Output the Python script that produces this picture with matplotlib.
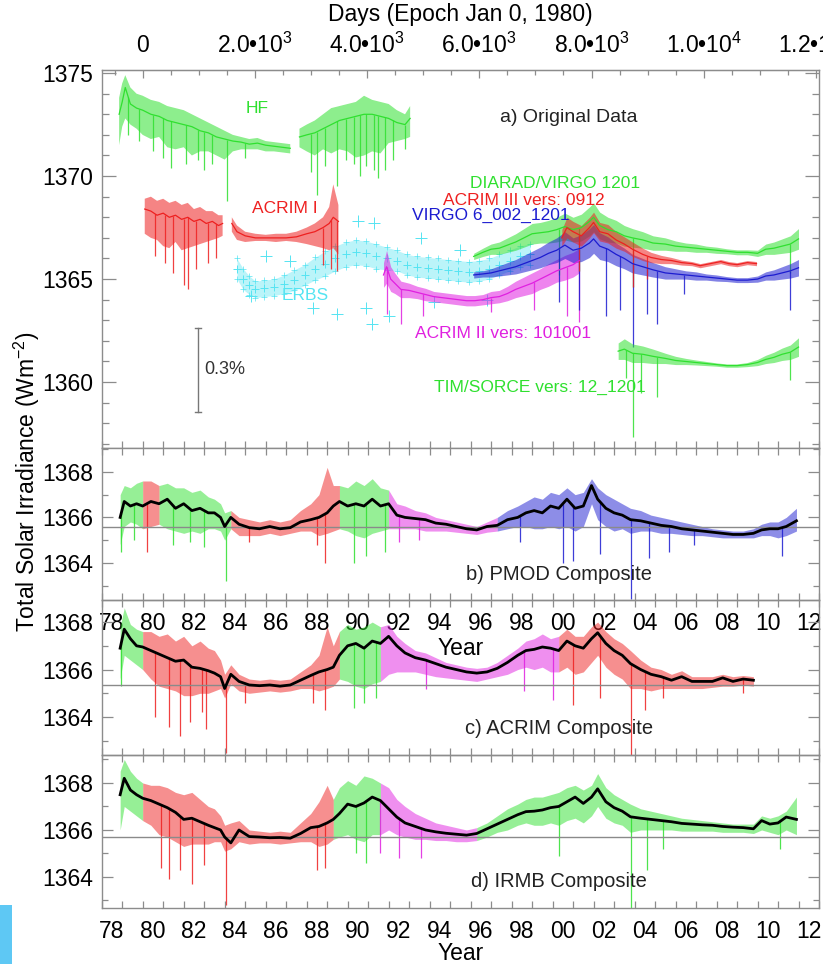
import numpy as np
import matplotlib
matplotlib.use('Agg')
import matplotlib.pyplot as plt
from matplotlib.patches import Rectangle
from matplotlib.ticker import MultipleLocator, FixedLocator, FixedFormatter, NullFormatter, FuncFormatter

plt.rcParams['font.family'] = ['Liberation Sans', 'DejaVu Sans']
plt.rcParams['mathtext.fontset'] = 'custom'
plt.rcParams['mathtext.rm'] = 'Liberation Sans'
plt.rcParams['mathtext.it'] = 'Liberation Sans:italic'

nan = np.nan

# ---------------- panel a: original data ----------------
hf_yr = [1978.85, 1979.0, 1979.15, 1979.4, 1979.7, 1980.0, 1980.4, 1980.8, 1981.2, 1981.6,
         1982.0, 1982.4, 1982.8, 1983.2, 1983.6, 1984.0, 1984.4, 1984.8, 1985.2, 1985.6,
         1986.0, 1986.4, 1986.8, 1987.2, 1987.4, 1987.65, 1988.0, 1988.4, 1988.8, 1989.2,
         1989.6, 1990.0, 1990.4, 1990.8, 1991.2, 1991.6, 1992.0, 1992.4, 1992.8, 1993.05]
hf_mid = [1373.0, 1373.6, 1374.3, 1373.5, 1373.3, 1373.2, 1373.0, 1372.9, 1372.7, 1372.6,
          1372.5, 1372.4, 1372.2, 1372.1, 1371.9, 1371.8, 1371.7, 1371.65, 1371.55, 1371.6,
          1371.5, 1371.45, 1371.4, 1371.35, nan, 1371.9, 1372.0, 1372.1, 1372.3, 1372.5,
          1372.7, 1372.8, 1372.9, 1373.0, 1373.0, 1372.9, 1372.8, 1372.6, 1372.5, 1372.8]
hf_hi = [1373.8, 1374.5, 1374.9, 1374.3, 1374.0, 1373.9, 1373.7, 1373.6, 1373.4, 1373.3,
         1373.2, 1373.0, 1372.8, 1372.6, 1372.4, 1372.2, 1372.0, 1371.9, 1371.8, 1371.85,
         1371.7, 1371.65, 1371.6, 1371.55, nan, 1372.3, 1372.5, 1372.7, 1373.0, 1373.3,
         1373.4, 1373.5, 1373.6, 1373.9, 1373.7, 1373.6, 1373.5, 1373.2, 1373.0, 1373.4]
hf_lo = [1371.5, 1372.4, 1372.8, 1372.5, 1372.3, 1372.0, 1371.8, 1371.9, 1371.4, 1371.3,
         1371.4, 1371.0, 1371.2, 1371.2, 1371.0, 1370.8, 1371.2, 1371.3, 1371.3, 1371.3,
         1371.2, 1371.2, 1371.15, 1371.1, nan, 1371.4, 1371.2, 1371.0, 1371.3, 1371.1,
         1371.3, 1371.2, 1370.9, 1371.0, 1371.2, 1371.1, 1371.6, 1371.7, 1371.8, 1371.9]
hf_dip_yr = [1979.3, 1979.8, 1980.5, 1981.0, 1981.4, 1982.1, 1982.7, 1983.0, 1983.4, 1984.1,
             1985.0, 1988.2, 1988.5, 1988.9, 1989.5, 1989.9, 1990.3, 1990.6, 1990.9, 1991.3,
             1991.5, 1991.8, 1992.2, 1992.8]
hf_dip_val = [1372.0, 1371.7, 1371.2, 1370.9, 1370.4, 1370.6, 1370.8, 1370.3, 1370.6, 1368.8,
              1370.9, 1370.2, 1369.1, 1370.5, 1369.5, 1370.8, 1370.6, 1370.0, 1370.5, 1370.3,
              1369.9, 1370.3, 1370.8, 1371.3]

a1_yr = [1980.1, 1980.4, 1980.7, 1981.0, 1981.3, 1981.6, 1981.9, 1982.2, 1982.5, 1982.8,
         1983.1, 1983.4, 1983.7, 1983.9, 1984.1, 1984.35, 1984.6, 1985.0, 1985.5, 1986.0,
         1986.5, 1987.0, 1987.5, 1988.0, 1988.4, 1988.8, 1989.1, 1989.3, 1989.55]
a1_mid = [1368.4, 1368.3, 1368.1, 1368.2, 1368.0, 1368.1, 1367.9, 1368.0, 1367.8, 1367.9,
          1367.7, 1367.8, 1367.6, 1367.7, nan, 1367.7, 1367.3, 1367.1, 1367.0, 1367.0,
          1367.0, 1367.0, 1367.05, 1367.2, 1367.3, 1367.5, 1367.7, 1368.0, 1367.8]
a1_hi = [1368.9, 1369.0, 1368.8, 1368.9, 1368.7, 1368.8, 1368.6, 1368.7, 1368.4, 1368.5,
         1368.3, 1368.3, 1368.1, 1368.1, nan, 1368.0, 1367.6, 1367.3, 1367.2, 1367.15,
         1367.2, 1367.2, 1367.3, 1367.5, 1367.7, 1368.0, 1368.5, 1369.6, 1368.6]
a1_lo = [1367.2, 1367.0, 1366.9, 1366.6, 1366.5, 1366.8, 1366.4, 1366.5, 1366.6, 1366.7,
         1366.8, 1366.9, 1367.0, 1367.1, nan, 1367.3, 1366.9, 1366.8, 1366.85, 1366.85,
         1366.8, 1366.85, 1366.8, 1366.7, 1366.6, 1366.5, 1366.4, 1366.5, 1366.2]
a1_dip_yr = [1980.6, 1981.1, 1981.5, 1982.0, 1982.2, 1982.6, 1983.2, 1983.6, 1988.8, 1989.2, 1989.5]
a1_dip_val = [1366.1, 1365.8, 1365.3, 1364.7, 1364.5, 1365.5, 1365.8, 1366.0, 1365.7, 1365.5, 1365.4]

erbs_yr = [1984.6, 1984.9, 1985.2, 1985.5, 1985.9, 1986.4, 1986.9, 1987.4, 1987.9, 1988.4,
           1988.9, 1989.4, 1989.9, 1990.4, 1990.9, 1991.4, 1991.9, 1992.4, 1992.9, 1993.4,
           1993.9, 1994.4, 1994.9, 1995.4, 1995.9, 1996.4, 1996.9, 1997.4, 1997.9, 1998.4,
           1998.9]
erbs_mid = [1365.5, 1365.0, 1364.7, 1364.5, 1364.55, 1364.6, 1364.75, 1364.95, 1365.2, 1365.5,
            1365.75, 1366.0, 1366.2, 1366.3, 1366.25, 1366.1, 1366.0, 1365.9, 1365.7, 1365.6,
            1365.55, 1365.5, 1365.45, 1365.4, 1365.35, 1365.4, 1365.5, 1365.7, 1365.9, 1366.1,
            1366.2]
erbs_amp = [0.5, 0.5, 0.45, 0.4, 0.4, 0.4, 0.45, 0.5, 0.5, 0.55,
            0.6, 0.6, 0.6, 0.6, 0.6, 0.6, 0.55, 0.5, 0.5, 0.5,
            0.5, 0.5, 0.5, 0.5, 0.5, 0.5, 0.5, 0.5, 0.5, 0.5,
            0.5]
erbs_out_yr = [1985.3, 1986.0, 1987.2, 1988.3, 1989.5, 1990.5, 1990.9, 1991.2, 1991.3, 1992.0,
               1993.6, 1994.2, 1995.5, 1996.8]
erbs_out_val = [1364.2, 1366.1, 1365.9, 1363.6, 1363.3, 1367.8, 1363.6, 1362.8, 1367.7, 1363.2,
                1367.0, 1363.9, 1366.4, 1364.0]

a2_yr = [1991.75, 1991.9, 1992.1, 1992.3, 1992.6, 1993.0, 1993.4, 1993.8, 1994.2, 1994.6,
         1995.0, 1995.4, 1995.8, 1996.2, 1996.6, 1997.0, 1997.4, 1997.8, 1998.2, 1998.6,
         1999.0, 1999.4, 1999.8, 2000.2, 2000.6, 2001.0, 2001.3]
a2_mid = [1365.2, 1365.6, 1365.0, 1364.8, 1364.5, 1364.45, 1364.35, 1364.25, 1364.15, 1364.1,
          1364.05, 1364.0, 1363.95, 1363.95, 1364.0, 1364.1, 1364.15, 1364.3, 1364.5, 1364.65,
          1364.8, 1365.0, 1365.2, 1365.4, 1365.55, 1365.7, 1365.9]
a2_amp = [0.6, 0.8, 0.6, 0.5, 0.4, 0.35, 0.3, 0.3, 0.25, 0.25,
          0.25, 0.25, 0.25, 0.25, 0.25, 0.3, 0.3, 0.35, 0.4, 0.45,
          0.5, 0.5, 0.55, 0.55, 0.6, 0.6, 0.6]
a2_dip_yr = [1991.9, 1992.6, 1993.7, 1997.0, 1999.1, 2000.7, 2001.3]
a2_dip_val = [1363.3, 1362.8, 1363.2, 1363.4, 1363.5, 1363.2, 1362.9]

vg_yr = [1996.15, 1996.6, 1997.0, 1997.4, 1997.8, 1998.2, 1998.6, 1999.0, 1999.4, 1999.8,
         2000.2, 2000.6, 2001.0, 2001.4, 2001.8, 2002.0, 2002.3, 2002.7, 2003.1, 2003.5,
         2003.9, 2004.4, 2004.9, 2005.5, 2006.0, 2006.5, 2007.0, 2007.5, 2008.0, 2008.5,
         2009.0, 2009.5, 2010.0, 2010.4, 2010.8, 2011.2, 2011.6, 2012.0]
virgo_mid = [1365.2, 1365.25, 1365.3, 1365.4, 1365.5, 1365.6, 1365.75, 1365.9, 1366.05, 1366.25,
             1366.4, 1366.65, 1366.4, 1366.5, 1366.75, 1366.95, 1366.6, 1366.45, 1366.2, 1366.0,
             1365.75, 1365.6, 1365.45, 1365.3, 1365.25, 1365.2, 1365.15, 1365.1, 1365.05, 1365.0,
             1364.95, 1364.95, 1365.0, 1365.15, 1365.2, 1365.3, 1365.4, 1365.55]
virgo_amp = [0.15, 0.15, 0.2, 0.25, 0.3, 0.35, 0.4, 0.45, 0.5, 0.55,
             0.6, 0.65, 0.6, 0.65, 0.7, 0.7, 0.65, 0.6, 0.55, 0.5,
             0.45, 0.4, 0.35, 0.3, 0.25, 0.2, 0.2, 0.15, 0.15, 0.12,
             0.12, 0.12, 0.15, 0.2, 0.25, 0.3, 0.35, 0.4]
virgo_dip_yr = [2000.3, 2001.3, 2002.6, 2003.3, 2003.9, 2004.6, 2005.1, 2006.4, 2011.6]
virgo_dip_val = [1363.9, 1363.5, 1363.2, 1363.5, 1361.7, 1363.3, 1362.8, 1364.3, 1363.5]

diarad_mid = [1366.1, 1366.3, 1366.45, 1366.5, 1366.65, 1366.8, 1367.0, 1367.2, 1367.25, 1367.3,
              1367.4, 1367.55, 1367.4, 1367.5, 1367.8, 1368.0, 1367.6, 1367.4, 1367.3, 1367.1,
              1367.0, 1366.9, 1366.75, 1366.7, 1366.6, 1366.55, 1366.5, 1366.45, 1366.4, 1366.35,
              1366.3, 1366.3, 1366.25, 1366.45, 1366.5, 1366.6, 1366.7, 1366.95]
diarad_amp = [0.15, 0.2, 0.25, 0.3, 0.35, 0.4, 0.45, 0.5, 0.5, 0.55,
              0.6, 0.65, 0.6, 0.65, 0.7, 0.7, 0.65, 0.6, 0.55, 0.5,
              0.45, 0.4, 0.35, 0.3, 0.25, 0.2, 0.2, 0.15, 0.15, 0.12,
              0.12, 0.12, 0.15, 0.25, 0.3, 0.35, 0.4, 0.5]
diarad_dip_yr = [2000.3, 2001.3, 2003.9, 2011.6]
diarad_dip_val = [1365.2, 1365.4, 1364.6, 1365.3]

a3_yr = [2000.45, 2000.7, 2001.0, 2001.4, 2001.8, 2002.0, 2002.3, 2002.7, 2003.1, 2003.5,
         2003.9, 2004.4, 2004.8, 2005.3, 2005.8, 2006.3, 2006.8, 2007.2, 2007.7, 2008.2,
         2008.6, 2009.0, 2009.5, 2009.95]
a3_mid = [1367.0, 1367.5, 1367.3, 1367.1, 1367.5, 1367.75, 1367.3, 1367.2, 1366.9, 1366.7,
          1366.45, 1366.2, 1366.05, 1365.95, 1365.9, 1365.8, 1365.75, 1365.65, 1365.75, 1365.85,
          1365.75, 1365.7, 1365.8, 1365.75]
a3_amp = [0.4, 0.5, 0.5, 0.5, 0.5, 0.5, 0.45, 0.45, 0.4, 0.35,
          0.35, 0.3, 0.25, 0.2, 0.15, 0.12, 0.1, 0.1, 0.1, 0.1,
          0.1, 0.1, 0.1, 0.1]
a3_dip_yr = [2001.3, 2003.9, 2004.6]
a3_dip_val = [1365.4, 1364.6, 1365.0]

tim_yr = [2003.2, 2003.5, 2003.9, 2004.4, 2004.9, 2005.5, 2006.0, 2006.5, 2007.0, 2007.5,
          2008.0, 2008.5, 2009.0, 2009.5, 2010.0, 2010.4, 2010.8, 2011.2, 2011.6, 2012.0]
tim_mid = [1361.5, 1361.6, 1361.4, 1361.35, 1361.25, 1361.15, 1361.05, 1361.0, 1360.95, 1360.9,
           1360.85, 1360.8, 1360.8, 1360.85, 1360.95, 1361.1, 1361.2, 1361.35, 1361.45, 1361.7]
tim_amp = [0.4, 0.5, 0.45, 0.4, 0.35, 0.25, 0.2, 0.15, 0.12, 0.1,
           0.08, 0.08, 0.08, 0.1, 0.15, 0.2, 0.25, 0.3, 0.35, 0.45]
tim_dip_yr = [2003.6, 2003.9, 2004.3, 2005.1, 2011.6]
tim_dip_val = [1360.2, 1357.35, 1359.45, 1359.3, 1360.1]

# ---------------- composites (panels b, c, d) ----------------
comp_yr = [1978.9, 1979.1, 1979.4, 1979.7, 1980.0, 1980.4, 1980.8, 1981.2, 1981.6, 1982.0,
           1982.4, 1982.8, 1983.2, 1983.5, 1983.8, 1984.0, 1984.3, 1984.7, 1985.2, 1985.7,
           1986.2, 1986.7, 1987.2, 1987.7, 1988.2, 1988.6, 1989.0, 1989.3, 1989.6, 1990.0,
           1990.4, 1990.8, 1991.2, 1991.6, 1992.0, 1992.4, 1992.8, 1993.3, 1993.8, 1994.3,
           1994.8, 1995.3, 1995.8, 1996.3, 1996.8, 1997.3, 1997.8, 1998.3, 1998.7, 1999.1,
           1999.5, 1999.9, 2000.3, 2000.7, 2001.1, 2001.5, 2001.9, 2002.2, 2002.6, 2003.0,
           2003.4, 2003.8, 2004.3, 2004.8, 2005.3, 2005.8, 2006.3, 2006.8, 2007.3, 2007.8,
           2008.3, 2008.8, 2009.3, 2009.8, 2010.2, 2010.6, 2011.0, 2011.4, 2011.9]

pmod_mid = [1366.0, 1366.7, 1366.5, 1366.6, 1366.5, 1366.7, 1366.6, 1366.8, 1366.4, 1366.6,
            1366.3, 1366.4, 1366.2, 1366.2, 1366.0, 1365.6, 1366.0, 1365.7, 1365.55, 1365.5,
            1365.6, 1365.5, 1365.55, 1365.8, 1365.9, 1366.0, 1366.2, 1366.5, 1366.7, 1366.5,
            1366.6, 1366.5, 1366.8, 1366.5, 1366.6, 1366.1, 1366.0, 1365.95, 1365.9, 1365.75,
            1365.7, 1365.6, 1365.5, 1365.45, 1365.6, 1365.65, 1365.9, 1366.0, 1366.2, 1366.3,
            1366.2, 1366.5, 1366.4, 1366.8, 1366.4, 1366.5, 1367.4, 1366.8, 1366.4, 1366.2,
            1366.1, 1365.9, 1365.85, 1365.75, 1365.65, 1365.6, 1365.5, 1365.45, 1365.4, 1365.35,
            1365.3, 1365.25, 1365.25, 1365.3, 1365.45, 1365.5, 1365.5, 1365.6, 1365.85]
pmod_hi = [1367.0, 1367.4, 1367.3, 1367.5, 1367.6, 1367.6, 1367.4, 1367.5, 1367.3, 1367.3,
           1367.1, 1367.2, 1366.9, 1366.8, 1366.6, 1366.2, 1366.3, 1366.0, 1365.9, 1365.8,
           1365.9, 1365.8, 1365.9, 1366.3, 1366.6, 1367.0, 1368.2, 1367.4, 1367.4, 1367.3,
           1367.6, 1367.4, 1367.7, 1367.3, 1367.2, 1366.6, 1366.5, 1366.3, 1366.2, 1366.0,
           1365.9, 1365.8, 1365.7, 1365.6, 1365.8, 1366.0, 1366.3, 1366.5, 1366.7, 1366.9,
           1366.8, 1367.1, 1367.0, 1367.3, 1367.0, 1367.1, 1367.7, 1367.3, 1367.0, 1366.8,
           1366.6, 1366.4, 1366.3, 1366.1, 1366.0, 1365.9, 1365.8, 1365.7, 1365.6, 1365.5,
           1365.45, 1365.4, 1365.4, 1365.5, 1365.7, 1365.8, 1365.8, 1366.0, 1366.4]
pmod_lo = [1364.8, 1365.6, 1365.8, 1365.7, 1365.5, 1365.6, 1365.7, 1365.5, 1365.4, 1365.3,
           1365.4, 1365.3, 1365.5, 1365.5, 1365.4, 1365.0, 1365.5, 1365.2, 1365.2, 1365.2,
           1365.3, 1365.2, 1365.3, 1365.4, 1365.4, 1365.2, 1365.3, 1365.4, 1365.5, 1365.4,
           1365.2, 1365.1, 1365.3, 1365.4, 1365.5, 1365.5, 1365.5, 1365.5, 1365.4, 1365.4,
           1365.4, 1365.35, 1365.3, 1365.25, 1365.35, 1365.4, 1365.5, 1365.6, 1365.6, 1365.5,
           1365.5, 1365.6, 1365.5, 1365.6, 1365.4, 1365.6, 1366.6, 1365.9, 1365.6, 1365.4,
           1365.5, 1365.3, 1365.4, 1365.4, 1365.3, 1365.3, 1365.25, 1365.2, 1365.2, 1365.15,
           1365.1, 1365.1, 1365.1, 1365.1, 1365.2, 1365.2, 1365.1, 1365.2, 1365.4]
pmod_dip_yr = [1978.95, 1979.6, 1980.2, 1981.5, 1982.3, 1983.0, 1984.05, 1985.2, 1988.5, 1988.9,
               1990.3, 1990.9, 1991.8, 1992.5, 1993.5, 1998.4, 2000.5, 2001.0, 2002.3, 2003.85,
               2004.7, 2005.7, 2006.9, 2011.2]
pmod_dip_val = [1364.5, 1365.0, 1364.5, 1364.8, 1364.9, 1364.7, 1363.2, 1364.9, 1364.8, 1364.0,
                1364.0, 1364.3, 1364.5, 1364.9, 1365.0, 1364.9, 1364.0, 1364.1, 1364.4, 1362.4,
                1364.2, 1364.5, 1364.8, 1364.3]
pmod_src = [('HF', 1978.9, 1980.0), ('ACRIM', 1980.0, 1980.8), ('HF', 1980.8, 1984.3),
            ('ACRIM', 1984.3, 1989.6), ('HF', 1989.6, 1992.0), ('ACRIM2', 1992.0, 1997.3),
            ('VIRGO', 1997.3, 2011.9)]
pmod_ref = 1365.56

acrim_mid = [1366.9, 1367.7, 1367.3, 1367.0, 1366.95, 1366.8, 1366.65, 1366.5, 1366.35, 1366.4,
             1366.1, 1366.05, 1365.95, 1365.85, 1365.7, 1365.2, 1365.8, 1365.5, 1365.35, 1365.32,
             1365.35, 1365.3, 1365.35, 1365.55, 1365.75, 1365.9, 1366.0, 1366.1, 1366.6, 1367.0,
             1367.1, 1366.9, 1367.2, 1367.1, 1367.4, 1367.0, 1366.7, 1366.5, 1366.4, 1366.25,
             1366.1, 1366.0, 1365.9, 1365.85, 1365.9, 1366.05, 1366.3, 1366.6, 1366.8, 1366.85,
             1366.95, 1366.9, 1366.8, 1367.2, 1367.0, 1366.9, 1367.3, 1367.55, 1367.1, 1366.8,
             1366.6, 1366.25, 1366.0, 1365.8, 1365.7, 1365.55, 1365.7, 1365.5, 1365.5, 1365.5,
             1365.65, 1365.5, 1365.6, 1365.55, nan, nan, nan, nan, nan]
acrim_hi = [1367.8, 1368.6, 1367.9, 1367.7, 1367.6, 1367.6, 1367.4, 1367.5, 1367.2, 1367.4,
            1367.0, 1367.2, 1366.9, 1366.8, 1366.4, 1365.8, 1366.2, 1365.8, 1365.6, 1365.55,
            1365.6, 1365.55, 1365.6, 1365.9, 1366.2, 1366.6, 1367.8, 1367.0, 1367.6, 1367.9,
            1367.7, 1367.8, 1368.0, 1367.8, 1367.9, 1367.4, 1367.1, 1366.8, 1366.7, 1366.5,
            1366.3, 1366.2, 1366.1, 1366.05, 1366.1, 1366.3, 1366.6, 1366.9, 1367.2, 1367.3,
            1367.5, 1367.3, 1367.4, 1367.7, 1367.4, 1367.4, 1367.8, 1368.0, 1367.6, 1367.3,
            1367.1, 1366.8, 1366.4, 1366.1, 1366.0, 1365.8, 1365.95, 1365.7, 1365.7, 1365.7,
            1365.8, 1365.7, 1365.75, 1365.7, nan, nan, nan, nan, nan]
acrim_lo = [1365.6, 1366.6, 1366.4, 1366.2, 1366.0, 1365.6, 1365.3, 1365.2, 1365.1, 1364.9,
            1364.9, 1365.0, 1365.0, 1365.1, 1365.2, 1364.8, 1365.4, 1365.1, 1365.0, 1365.05,
            1365.1, 1365.05, 1365.1, 1365.2, 1365.2, 1365.1, 1365.2, 1365.3, 1365.6, 1365.5,
            1365.3, 1365.2, 1365.4, 1365.5, 1365.8, 1365.9, 1365.9, 1365.9, 1365.8, 1365.7,
            1365.65, 1365.6, 1365.55, 1365.5, 1365.6, 1365.7, 1365.8, 1366.0, 1366.1, 1366.0,
            1366.1, 1365.9, 1365.9, 1366.1, 1365.8, 1365.9, 1366.3, 1366.6, 1366.1, 1365.8,
            1365.6, 1365.2, 1365.2, 1365.1, 1365.2, 1365.2, 1365.2, 1365.2, 1365.2, 1365.25,
            1365.3, 1365.3, 1365.35, 1365.3, nan, nan, nan, nan, nan]
acrim_dip_yr = [1978.95, 1980.6, 1981.3, 1981.8, 1982.3, 1982.9, 1983.1, 1984.05, 1985.0, 1988.3,
                1988.9, 1990.3, 1990.8, 1991.4, 1993.8, 1998.6, 2000.0, 2001.0, 2002.3, 2003.85,
                2004.5, 2005.4, 2009.3]
acrim_dip_val = [1365.3, 1364.0, 1363.6, 1363.2, 1363.8, 1364.2, 1363.5, 1362.5, 1364.6, 1364.6,
                 1364.3, 1364.4, 1364.6, 1364.8, 1365.2, 1365.1, 1364.7, 1364.5, 1364.8, 1362.4,
                 1364.3, 1364.8, 1365.0]
acrim_src = [('HF', 1978.9, 1980.0), ('ACRIM', 1980.0, 1989.6), ('HF', 1989.6, 1991.6),
             ('ACRIM2', 1991.6, 2000.3), ('ACRIM', 2000.3, 2009.8)]
acrim_ref = 1365.37

irmb_mid = [1367.5, 1368.2, 1367.7, 1367.5, 1367.35, 1367.25, 1367.1, 1366.95, 1366.75, 1366.45,
            1366.5, 1366.35, 1366.2, 1366.1, 1366.0, 1365.7, 1365.45, 1366.0, 1365.72, 1365.7,
            1365.67, 1365.68, 1365.65, 1365.85, 1366.1, 1366.15, 1366.3, 1366.45, 1366.7, 1367.1,
            1367.0, 1367.15, 1367.4, 1367.25, 1366.9, 1366.55, 1366.3, 1366.15, 1366.0, 1365.92,
            1365.86, 1365.82, 1365.78, 1365.85, 1366.05, 1366.25, 1366.45, 1366.65, 1366.78, 1366.8,
            1366.85, 1366.95, 1367.0, 1367.2, 1367.4, 1367.13, 1367.4, 1367.75, 1367.2, 1366.95,
            1366.8, 1366.56, 1366.5, 1366.45, 1366.4, 1366.35, 1366.28, 1366.25, 1366.22, 1366.2,
            1366.15, 1366.12, 1366.1, 1366.05, 1366.4, 1366.25, 1366.3, 1366.55, 1366.45]
irmb_hi = [1368.5, 1369.0, 1368.5, 1368.2, 1368.0, 1367.9, 1367.9, 1367.8, 1367.6, 1367.5,
           1367.6, 1367.3, 1367.0, 1366.9, 1366.6, 1366.2, 1366.3, 1366.4, 1366.0, 1365.95,
           1365.9, 1365.95, 1365.9, 1366.3, 1366.7, 1367.2, 1367.9, 1367.3, 1367.8, 1368.1,
           1367.9, 1368.3, 1368.2, 1368.0, 1367.8, 1367.3, 1367.0, 1366.7, 1366.5, 1366.3,
           1366.2, 1366.1, 1366.0, 1366.1, 1366.3, 1366.6, 1366.9, 1367.1, 1367.3, 1367.4,
           1367.4, 1367.5, 1367.6, 1367.8, 1367.9, 1367.7, 1367.9, 1368.4, 1367.8, 1367.5,
           1367.3, 1367.1, 1366.9, 1366.8, 1366.7, 1366.6, 1366.5, 1366.45, 1366.4, 1366.35,
           1366.3, 1366.25, 1366.25, 1366.25, 1366.6, 1366.5, 1366.6, 1366.8, 1367.4]
irmb_lo = [1366.0, 1367.0, 1366.8, 1366.6, 1366.4, 1366.2, 1365.8, 1365.7, 1365.5, 1365.3,
           1365.4, 1365.4, 1365.4, 1365.5, 1365.5, 1365.1, 1365.2, 1365.5, 1365.4, 1365.45,
           1365.45, 1365.4, 1365.45, 1365.5, 1365.5, 1365.3, 1365.4, 1365.6, 1365.7, 1365.8,
           1365.6, 1365.5, 1365.8, 1365.8, 1366.0, 1365.8, 1365.7, 1365.6, 1365.6, 1365.55,
           1365.55, 1365.5, 1365.5, 1365.55, 1365.7, 1365.9, 1366.0, 1366.2, 1366.3, 1366.2,
           1366.2, 1366.3, 1366.2, 1366.4, 1366.5, 1366.3, 1366.6, 1367.0, 1366.5, 1366.3,
           1366.2, 1365.9, 1366.0, 1366.0, 1366.0, 1366.0, 1365.95, 1365.95, 1365.95, 1365.95,
           1365.9, 1365.9, 1365.9, 1365.85, 1366.0, 1365.9, 1365.8, 1366.0, 1365.8]
irmb_dip_yr = [1980.9, 1981.3, 1981.8, 1982.4, 1983.0, 1984.05, 1988.5, 1988.9, 1990.4, 1990.9,
               1991.6, 1992.5, 1993.6, 2000.3, 2003.85, 2004.6, 2005.4, 2011.1]
irmb_dip_val = [1364.4, 1363.9, 1364.3, 1363.7, 1364.5, 1362.8, 1364.3, 1364.4, 1365.0, 1364.6,
                1365.0, 1364.8, 1364.8, 1364.9, 1362.7, 1364.3, 1365.2, 1365.2]
irmb_src = [('HF', 1978.9, 1980.0), ('ACRIM', 1980.0, 1989.3), ('HF', 1989.3, 1991.6),
            ('ACRIM2', 1991.6, 1996.3), ('HF', 1996.3, 2011.9)]
irmb_ref = 1365.7

day_ticks = [0, 2000, 4000, 6000, 8000, 10000, 12000]
day_labels = ['0', '2.0\u202210$^3$', '4.0\u202210$^3$', '6.0\u202210$^3$',
              '8.0\u202210$^3$', '1.0\u202210$^4$', '1.2\u202210$^4$']
year_label_pos = [y + 0.5 for y in range(1978, 2013, 2)]

# ---------------- style ----------------
GREEN = '#2fe02f'
RED = '#ee2020'
BLUE = '#1c1cd0'
MAG = '#e020e0'
CYAN = '#55e4f2'
SRC_COL = {'HF': GREEN, 'ACRIM': RED, 'ACRIM2': MAG, 'VIRGO': BLUE, 'ERBS': CYAN}
AXC = '#8c8c8c'
FS = 16.5

W, H = 823, 964
fig = plt.figure(figsize=(W / 100, H / 100), dpi=100)
xl, xr = 101.7, 819.0


def rect(top, bot):
    return [xl / W, 1 - bot / H, (xr - xl) / W, (bot - top) / H]


ax_a = fig.add_axes(rect(70, 448))
ax_b = fig.add_axes(rect(448, 600))
ax_c = fig.add_axes(rect(600, 755), facecolor='none')
ax_d = fig.add_axes(rect(755, 908), facecolor='none')


def style(ax, ylim, ymaj, ylen, xlabels, top=True):
    ax.set_xlim(1978.0, 2013.0)
    ax.set_ylim(*ylim)
    for s in ax.spines.values():
        s.set_color(AXC)
        s.set_linewidth(1.0)
    ax.xaxis.set_major_locator(MultipleLocator(1))
    ax.xaxis.set_major_formatter(NullFormatter())
    ax.xaxis.set_minor_locator(FixedLocator(year_label_pos))
    if xlabels:
        ax.xaxis.set_minor_formatter(FuncFormatter(lambda v, p: '%02d' % (int(v) % 100)))
    else:
        ax.xaxis.set_minor_formatter(NullFormatter())
    ax.yaxis.set_major_locator(MultipleLocator(ymaj))
    ax.yaxis.set_minor_locator(MultipleLocator(1))
    ax.yaxis.set_major_formatter(FuncFormatter(lambda v, p: '%d' % round(v)))
    ax.tick_params(which='both', direction='in', color=AXC, labelsize=FS, width=0.9)
    ax.tick_params(axis='x', which='major', length=5, top=top, bottom=True)
    ax.tick_params(axis='x', which='minor', length=0, pad=9, top=False)
    ax.tick_params(axis='y', which='major', length=ylen, right=True, pad=6)
    ax.tick_params(axis='y', which='minor', length=ylen * 0.5, right=True)


def band(ax, x, mid, lo, hi, color, alpha=0.55, lw=0.9, zorder=2):
    x = np.asarray(x, float)
    mid = np.ma.masked_invalid(np.asarray(mid, float))
    lo = np.ma.masked_invalid(np.asarray(lo, float))
    hi = np.ma.masked_invalid(np.asarray(hi, float))
    ax.fill_between(x, lo, hi, color=color, alpha=alpha, lw=0, zorder=zorder)
    ax.plot(x, mid, color=color, lw=lw, zorder=zorder + 0.1)


def amp_band(ax, x, mid, amp, color, **kw):
    mid = np.asarray(mid, float)
    amp = np.asarray(amp, float)
    band(ax, x, mid, mid - amp, mid + amp, color, **kw)


def dips(ax, x, mid, dx, dv, color, lw=0.9, zorder=2):
    xs = np.asarray(x, float)
    ms = np.asarray(mid, float)
    ok = ~np.isnan(ms)
    top = np.interp(dx, xs[ok], ms[ok])
    ax.vlines(dx, dv, top, color=color, lw=lw, zorder=zorder, alpha=0.85)


# ---------------- panel a ----------------
style(ax_a, (1356.8, 1375.15), 5, 10, False, top=False)

erbs_m = np.array(erbs_mid)
erbs_a = np.array(erbs_amp)
ax_a.fill_between(erbs_yr, erbs_m - erbs_a, erbs_m + erbs_a, color=CYAN, alpha=0.4, lw=0, zorder=1)
ax_a.plot(erbs_yr, erbs_m, '+', color=CYAN, ms=6, mew=0.7, zorder=1.2)
ax_a.plot(erbs_yr, erbs_m + erbs_a, '+', color=CYAN, ms=5, mew=0.5, zorder=1.2)
ax_a.plot(erbs_yr, erbs_m - erbs_a, '+', color=CYAN, ms=5, mew=0.5, zorder=1.2)
ax_a.plot(erbs_out_yr, erbs_out_val, '+', color=CYAN, ms=8, mew=0.7, zorder=1.2)

amp_band(ax_a, a2_yr, a2_mid, a2_amp, MAG)
dips(ax_a, a2_yr, a2_mid, a2_dip_yr, a2_dip_val, MAG)
amp_band(ax_a, vg_yr, diarad_mid, diarad_amp, GREEN)
dips(ax_a, vg_yr, diarad_mid, diarad_dip_yr, diarad_dip_val, GREEN)
amp_band(ax_a, vg_yr, virgo_mid, virgo_amp, BLUE)
dips(ax_a, vg_yr, virgo_mid, virgo_dip_yr, virgo_dip_val, BLUE)
amp_band(ax_a, a3_yr, a3_mid, a3_amp, RED)
dips(ax_a, a3_yr, a3_mid, a3_dip_yr, a3_dip_val, RED)
amp_band(ax_a, tim_yr, tim_mid, tim_amp, GREEN)
dips(ax_a, tim_yr, tim_mid, tim_dip_yr, tim_dip_val, GREEN)
band(ax_a, hf_yr, hf_mid, hf_lo, hf_hi, GREEN)
dips(ax_a, hf_yr, hf_mid, hf_dip_yr, hf_dip_val, GREEN)
band(ax_a, a1_yr, a1_mid, a1_lo, a1_hi, RED)
dips(ax_a, a1_yr, a1_mid, a1_dip_yr, a1_dip_val, RED)

# 0.3% scale bar
tsi_ref = 1366.0
bar_x, bar_bottom = 1982.7, 1358.55
bar_top = bar_bottom + tsi_ref * 0.003
ax_a.plot([bar_x, bar_x], [bar_bottom, bar_top], color='#777777', lw=1.0)
ax_a.plot([bar_x - 0.15, bar_x + 0.15], [bar_top, bar_top], color='#777777', lw=1.0)
ax_a.plot([bar_x - 0.15, bar_x + 0.15], [bar_bottom, bar_bottom], color='#777777', lw=1.0)
ax_a.text(bar_x + 0.3, (bar_top + bar_bottom) / 2, '0.3%', fontsize=13, va='center', ha='left', color='#333333')

lab_fs = 12.5
ax_a.text(1985.58, 1373.3, 'HF', color=GREEN, fontsize=lab_fs, ha='center', va='center')
ax_a.text(1986.95, 1368.45, 'ACRIM I', color=RED, fontsize=lab_fs, ha='center', va='center')
ax_a.text(1987.92, 1364.22, 'ERBS', color=CYAN, fontsize=lab_fs, ha='center', va='center')
ax_a.text(2000.8, 1372.86, 'a) Original Data', color='#222222', fontsize=14, ha='center', va='center')
ax_a.text(2000.13, 1369.66, 'DIARAD/VIRGO 1201', color=GREEN, fontsize=lab_fs, ha='center', va='center')
ax_a.text(1998.59, 1368.83, 'ACRIM III vers: 0912', color=RED, fontsize=lab_fs, ha='center', va='center')
ax_a.text(1997.0, 1368.1, 'VIRGO 6_002_1201', color=BLUE, fontsize=lab_fs, ha='center', va='center')
ax_a.text(1997.56, 1362.38, 'ACRIM II vers: 101001', color=MAG, fontsize=lab_fs, ha='center', va='center')
ax_a.text(1999.37, 1359.76, 'TIM/SORCE vers: 12_1201', color=GREEN, fontsize=lab_fs, ha='center', va='center')

sec = ax_a.secondary_xaxis('top', functions=(lambda y: (y - 1980.0) * 365.25 + 1.0,
                                              lambda d: (d - 1.0) / 365.25 + 1980.0))
sec.xaxis.set_major_locator(FixedLocator(day_ticks))
sec.xaxis.set_major_formatter(FixedFormatter(day_labels))
sec.xaxis.set_minor_locator(MultipleLocator(500))
sec.tick_params(which='both', direction='in', color=AXC, labelsize=FS, width=0.9)
sec.tick_params(which='major', length=6, pad=9)
sec.tick_params(which='minor', length=3.5)
sec.spines['top'].set_color(AXC)
sec.set_xlabel('Days (Epoch Jan 0, 1980)', fontsize=FS, labelpad=8)


# ---------------- composites ----------------
def composite(ax, mid, lo, hi, src, dyr, dval, ref, label, ylim, xlabels):
    style(ax, ylim, 2, 8, xlabels)
    x = np.asarray(comp_yr, float)
    mid_a = np.asarray(mid, float)
    lo_a = np.ma.masked_invalid(np.asarray(lo, float))
    hi_a = np.ma.masked_invalid(np.asarray(hi, float))
    for name, s, e in src:
        w = (x >= s - 1e-6) & (x <= e + 1e-6)
        ax.fill_between(x, lo_a, hi_a, where=w, color=SRC_COL[name], alpha=0.5, lw=0, zorder=1)
    for yv, dv in zip(dyr, dval):
        col = GREEN
        for name, s, e in src:
            if s <= yv <= e:
                col = SRC_COL[name]
        dips(ax, comp_yr, mid, [yv], [dv], col, zorder=1.5)
    ax.axhline(ref, color='#8a8a8a', lw=1.0, zorder=1.8)
    ax.plot(x, np.ma.masked_invalid(mid_a), color='black', lw=2.0, zorder=3)
    ax.text(2000.3, ylim[0] + (ylim[1] - ylim[0]) * 0.17, label, fontsize=14.5,
            ha='center', va='center', color='#222222')


composite(ax_b, pmod_mid, pmod_lo, pmod_hi, pmod_src, pmod_dip_yr, pmod_dip_val, pmod_ref,
          'b) PMOD Composite', (1362.37, 1369.05), True)
ax_b.set_xlabel('Year', fontsize=FS, labelpad=1)
composite(ax_c, acrim_mid, acrim_lo, acrim_hi, acrim_src, acrim_dip_yr, acrim_dip_val, acrim_ref,
          'c) ACRIM Composite', (1362.4, 1368.93), False)
composite(ax_d, irmb_mid, irmb_lo, irmb_hi, irmb_src, irmb_dip_yr, irmb_dip_val, irmb_ref,
          'd) IRMB Composite', (1362.68, 1369.19), True)
ax_d.set_xlabel('Year', fontsize=FS, labelpad=-1)

fig.text(27 / W, 0.5, 'Total Solar Irradiance (Wm$^{-2}$)', rotation=90, va='center', ha='center',
         fontsize=FS)
fig.add_artist(Rectangle((0, 0), 12 / W, 59 / H, transform=fig.transFigure, color='#5ec8f4', lw=0))

fig.savefig('out.png', dpi=100)
